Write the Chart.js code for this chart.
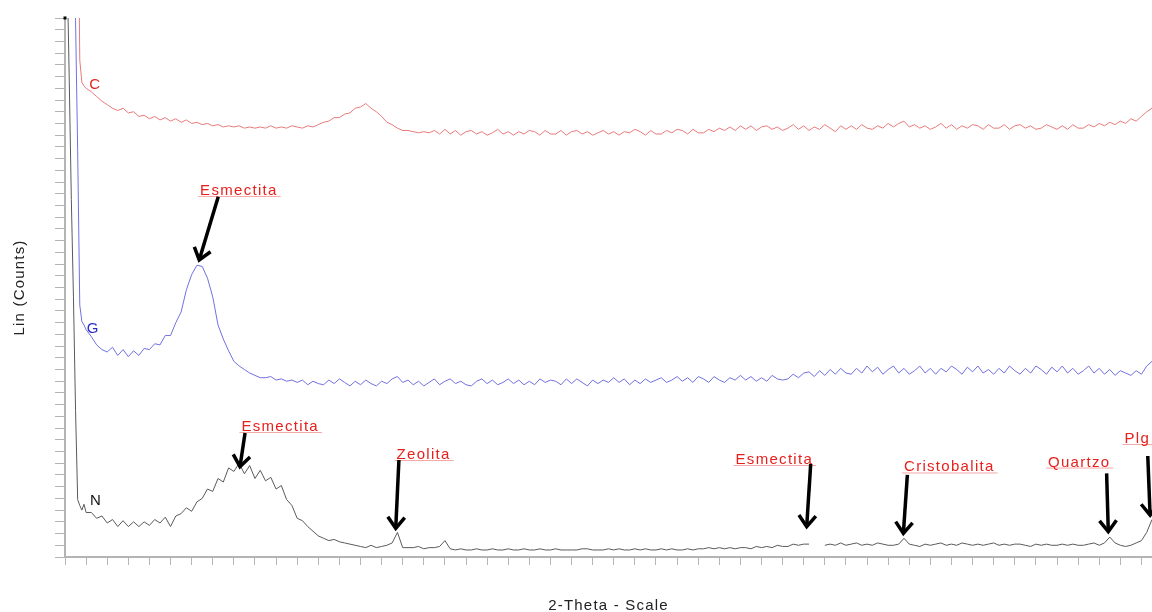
<!DOCTYPE html>
<html>
<head>
<meta charset="utf-8">
<script src="https://cdn.jsdelivr.net/npm/chart.js@4.4.1/dist/chart.umd.min.js"></script>
<style>
html,body{margin:0;padding:0;background:#ffffff;}
#wrap{width:1152px;height:612px;position:relative;}
</style>
</head>
<body>
<div id="wrap"><canvas id="c" width="1152" height="612"></canvas></div>
<script>
// 2-Theta positions (degrees)
const twoTheta = [
2,2.1,2.2,2.3,2.4,2.5,2.6,2.7,2.8,2.9,3,
3.25,3.5,3.75,4, 4.25,4.5,4.75,5, 5.25,5.5,5.75,6, 6.25,6.5,6.75,7,
7.25,7.5,7.75,8, 8.25,8.5,8.75,9, 9.25,9.5,9.75,10, 10.25,10.5,10.75,11,
11.25,11.5,11.75,12, 12.25,12.5,12.75,13, 13.25,13.5,13.75,14, 14.25,14.5,14.75,15,
15.25,15.5,15.75,16, 16.25,16.5,16.75,17, 17.25,17.5,17.75,18, 18.25,18.5,18.75,19,
19.25,19.5,19.75,20, 20.25,20.5,20.75,21, 21.25,21.5,21.75,22, 22.25,22.5,22.75,23,
23.25,23.5,23.75,24, 24.25,24.5,24.75,25, 25.25,25.5,25.75,26, 26.25,26.5,26.75,27,
27.25,27.5,27.75,28, 28.25,28.5,28.75,29, 29.25,29.5,29.75,30, 30.25,30.5,30.75,31,
31.25,31.5,31.75,32, 32.25,32.5,32.75,33, 33.25,33.5,33.75,34, 34.25,34.5,34.75,35,
35.25,35.5,35.75,36, 36.25,36.5,36.75,37, 37.25,37.5,37.75,38, 38.25,38.5,38.75,39,
39.25,39.5,39.75,40, 40.25,40.5,40.75,41, 41.25,41.5,41.75,42, 42.25,42.5,42.75,43,
43.25,43.5,43.75,44, 44.25,44.5,44.75,45, 45.25,45.5,45.75,46, 46.25,46.5,46.75,47,
47.25,47.5,47.75,48, 48.25,48.5,48.75,49, 49.25,49.5,49.75,50, 50.25,50.5,50.75,51,
51.25,51.5,51.75,52, 52.25,52.5,52.75,53, 53.25,53.5
];

// Sample C (red, top pattern)
const countsC = [
620,620,620,620,620,620,600,424,405,402,400,
397,393,389,386, 383,381,383,379, 380,376,377,374, 376,373,375,372,
374,371,373,370, 371,369,370,368, 369,367,368,367, 368,366,367,366,
367,366,368,366, 367,366,368,367, 366,368,367,369, 371,372,375,375,
378,379,383,384, 387,383,380,376, 371,369,366,364, 364,363,362,363,
362,364,361,365, 361,364,360,363, 364,361,363,360, 362,365,361,363,
360,363,361,364, 363,360,364,361, 361,364,360,363, 364,361,363,360,
362,364,361,363, 360,363,362,365, 363,360,364,361, 361,364,362,365,
364,361,365,362, 362,365,363,366, 364,367,364,368, 365,368,364,367,
368,365,367,364, 366,369,365,368, 364,367,365,369, 366,363,368,365,
368,365,369,366, 365,368,366,370, 367,370,372,367, 369,366,368,365,
367,370,366,369, 365,368,366,369, 368,365,369,366, 366,369,365,368,
369,366,368,365, 366,369,367,365, 368,365,369,366, 366,369,367,370,
368,371,369,372, 370,374,372,376, 380,383
];

// Sample G (blue, middle pattern)
const countsG = [
620,620,620,620,600,458,347,215,201,198,194,
188,181,177,175, 179,172,177,171, 176,172,178,177, 182,181,189,189,
200,209,228,241, 249,248,238,222, 198,186,176,167, 163,160,157,155,
153,153,154,151, 152,150,151,149, 151,147,150,148, 147,151,148,152,
149,146,150,147, 151,148,146,150, 148,152,154,149, 151,147,150,146,
149,152,147,150, 152,148,150,147, 146,150,152,148, 151,147,149,152,
148,151,147,150, 147,152,149,151, 150,147,152,148, 152,149,146,151,
148,151,149,153, 149,152,147,151, 148,152,149,151, 153,149,151,154,
150,153,149,154, 152,149,154,151, 149,153,151,155, 151,154,150,153,
150,155,152,151, 152,156,153,157, 158,154,159,155, 160,156,161,157,
156,161,157,163, 158,162,156,160, 163,157,161,156, 159,163,157,161,
156,161,158,163, 160,156,162,158, 163,157,160,156, 161,157,163,159,
156,161,157,163, 160,156,162,158, 163,157,161,156, 159,163,157,161,
156,160,155,159, 157,155,159,156, 163,167
];

// Sample N (black, bottom pattern)
const countsN = [
606,505,408,305,222,125,49,44,40,45,38,
38,33,35,29, 32,26,31,26, 30,26,30,27, 32,29,34,26,
35,37,42,39, 47,50,58,56, 67,64,76,73, 80,71,78,67,
74,65,68,58, 61,49,44,33, 31,26,22,18, 16,14,15,13,
12,11,10,9, 8,10,8,9, 10,12,21,8, 8,8,9,7,
8,8,9,14, 7,6,7,6, 6,7,6,6, 7,6,6,7,
6,6,7,6, 6,7,6,6, 7,6,6,6, 6,7,7,6,
6,6,7,6, 7,6,6,7, 6,7,6,6, 7,6,7,6,
6,7,6,7, 7,8,7,8, 7,8,7,8, 8,7,9,8,
9,8,10,9, 9,11,10,11, 11,null,null,10, 11,10,12,10,
11,12,10,11, 10,12,11,10, 10,11,16,11, 10,9,11,10,
11,12,10,11, 10,12,11,10, 11,10,11,12, 10,11,10,11,
11,10,9,11, 10,11,10,10, 11,10,11,10, 10,11,12,10,
12,17,12,10, 9,10,12,14, 21,32
];

const seriesNames = ['C','G','N'];
const seriesColors = ['#e87a7a','#7070e0','#5a5a5a'];

// Curve name labels (2-Theta, counts)
const curveLabels = [
  {text:'C', x:3.15, y:399, color:'#e52420'},
  {text:'G', x:3.03, y:191, color:'#2a2ac8'},
  {text:'N', x:3.18, y:44,  color:'#111111'}
];
// Phase labels (2-Theta, counts of text baseline)
const phaseLabels = [
  {text:'Esmectita',    x:8.40,  y:309},
  {text:'Esmectita',    x:10.36, y:107.5},
  {text:'Zeolita',      x:17.71, y:83.6},
  {text:'Esmectita',    x:33.77, y:79.4},
  {text:'Cristobalita', x:41.75, y:73},
  {text:'Quartzo',      x:48.57, y:77.2},
  {text:'Plg',          x:52.20, y:97.3}
];
// Arrow tails and tips (2-Theta, counts)
const arrowTails = [[9.26,307.5],[10.53,105.8],[17.82,82.8],[37.33,79.4],[41.91,70.0],[51.35,71.4],[53.30,86.2]];
const arrowTips  = [[8.36,253.5],[10.29,77.1],[17.67,24.5],[37.14,25.9],[41.72,20.2],[51.43,21.6],[53.41,35.8]];

const FONT = '"Liberation Sans", Arial, Helvetica, sans-serif';
const countsAll = [countsC, countsG, countsN];

const annotate = {
  id: 'annotate',
  beforeDraw(chart) {
    chart.ctx.letterSpacing = '1.2px';
  },
  afterDatasetsDraw(chart) {
    const ctx = chart.ctx;
    const xs = chart.scales.x, ys = chart.scales.y;
    ctx.save();
    // small marker at top of Y axis
    ctx.fillStyle = '#000';
    ctx.fillRect(xs.getPixelForValue(xs.min) - 1.5, ys.getPixelForValue(ys.max) - 1.5, 3, 3);

    ctx.textBaseline = 'alphabetic';
    ctx.textAlign = 'left';
    ctx.font = '15px ' + FONT;
    ctx.letterSpacing = '0px';
    curveLabels.forEach(l => {
      ctx.fillStyle = l.color;
      ctx.fillText(l.text, xs.getPixelForValue(l.x), ys.getPixelForValue(l.y));
    });

    ctx.letterSpacing = '1.3px';
    phaseLabels.forEach(l => {
      const px = xs.getPixelForValue(l.x), py = ys.getPixelForValue(l.y);
      ctx.fillStyle = '#e8201c';
      ctx.fillText(l.text, px, py);
      const w = ctx.measureText(l.text).width;
      ctx.strokeStyle = 'rgba(232,60,60,0.45)';
      ctx.lineWidth = 1;
      ctx.beginPath();
      ctx.moveTo(px - 2, py + 1.5);
      ctx.lineTo(px + w + 3, py + 1.5);
      ctx.stroke();
    });

    ctx.strokeStyle = '#000';
    ctx.lineWidth = 3.5;
    ctx.lineJoin = 'miter';
    ctx.lineCap = 'butt';
    arrowTails.forEach((t, i) => {
      const sx = xs.getPixelForValue(t[0]), sy = ys.getPixelForValue(t[1]);
      const tx = xs.getPixelForValue(arrowTips[i][0]), ty = ys.getPixelForValue(arrowTips[i][1]);
      const ang = Math.atan2(ty - sy, tx - sx);
      const L = 14, a = 0.65;
      ctx.beginPath();
      ctx.moveTo(sx, sy);
      ctx.lineTo(tx - 1.5 * Math.cos(ang), ty - 1.5 * Math.sin(ang));
      ctx.stroke();
      ctx.beginPath();
      ctx.moveTo(tx - L * Math.cos(ang - a), ty - L * Math.sin(ang - a));
      ctx.lineTo(tx, ty);
      ctx.lineTo(tx - L * Math.cos(ang + a), ty - L * Math.sin(ang + a));
      ctx.stroke();
    });
    ctx.restore();
  }
};

const datasets = seriesNames.map((name, k) => ({
  label: name,
  data: twoTheta.map((t, i) => ({x: t, y: countsAll[k][i]})),
  borderColor: seriesColors[k],
  borderWidth: 1,
  pointRadius: 0,
  tension: 0,
  spanGaps: false,
  fill: false
}));

const axisGrey = '#b4b4b4';
new Chart(document.getElementById('c'), {
  type: 'line',
  data: { datasets },
  options: {
    responsive: false,
    animation: false,
    layout: { padding: { top: 18, left: 0, right: 0, bottom: 0 } },
    plugins: { legend: { display: false }, tooltip: { enabled: false } },
    scales: {
      x: {
        type: 'linear', min: 2, max: 53.5,
        ticks: { display: false, stepSize: 1, includeBounds: false },
        grid: { drawOnChartArea: false, drawTicks: true, tickLength: 8, tickColor: axisGrey, tickWidth: 1 },
        border: { display: true, color: axisGrey, width: 2 },
        title: { display: true, text: '2-Theta - Scale', color: '#222',
                 font: { family: FONT, size: 15, lineHeight: 0.8 }, padding: { top: 35, bottom: 0 } }
      },
      y: {
        type: 'linear', min: 0, max: 460,
        ticks: { display: false, stepSize: 10 },
        grid: { drawOnChartArea: false, drawTicks: true, tickLength: 10, tickColor: axisGrey, tickWidth: 1 },
        border: { display: true, color: axisGrey, width: 2 },
        title: { display: true, text: 'Lin (Counts)', color: '#222',
                 font: { family: FONT, size: 15, lineHeight: 0.8 }, padding: { top: 14, bottom: 29 } }
      }
    }
  },
  plugins: [annotate]
});
</script>
</body>
</html>
